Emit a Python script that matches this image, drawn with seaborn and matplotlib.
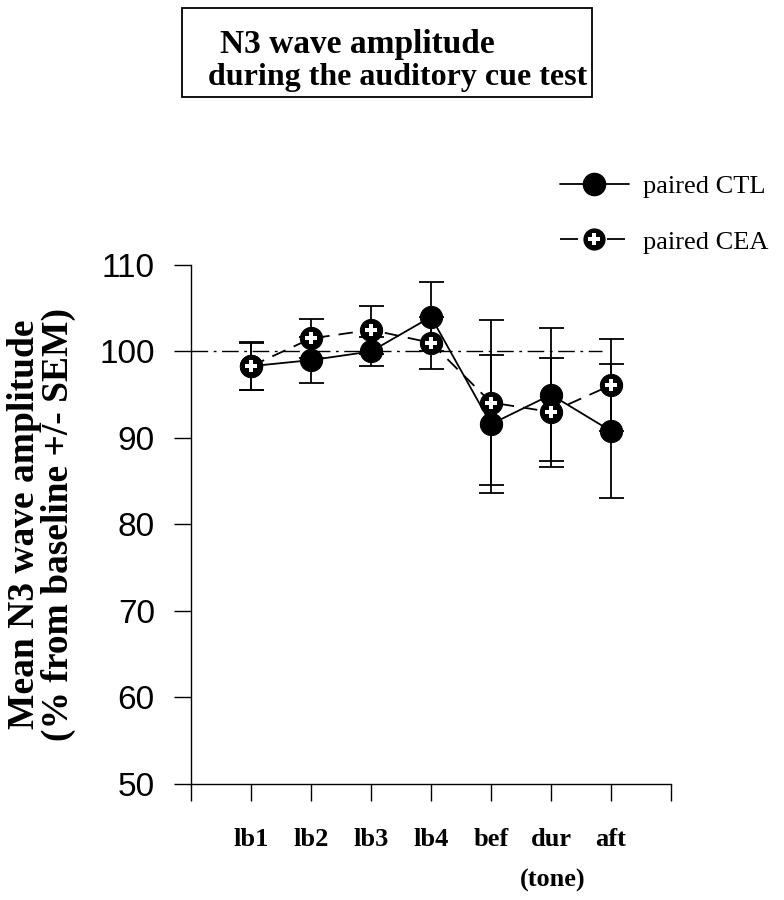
import matplotlib
matplotlib.use("Agg")
import matplotlib.pyplot as plt
import pandas as pd
import seaborn as sns
from matplotlib.lines import Line2D
from matplotlib.legend_handler import HandlerTuple
from matplotlib.patches import Rectangle

sns.set_theme(style="ticks", rc={
    "text.color": "black",
    "axes.labelcolor": "black",
    "axes.edgecolor": "black",
    "xtick.color": "black",
    "ytick.color": "black",
})
plt.rcParams["font.family"] = ["Liberation Serif", "DejaVu Serif"]

labels = ["lb1", "lb2", "lb3", "lb4", "bef", "dur", "aft"]
positions = [1, 2, 3, 4, 5, 6, 7]
ctl_mean = [98.3, 99.0, 100.0, 104.0, 91.6, 95.0, 90.8]
ctl_sem = [2.8, 2.7, 1.7, 4.0, 8.0, 7.7, 7.7]
cea_mean = [98.3, 101.5, 102.5, 101.0, 94.1, 93.0, 96.1]
cea_sem = [2.7, 2.3, 2.8, 3.0, 9.5, 6.3, 5.3]

frame = pd.DataFrame({
    "pos": positions * 2,
    "value": ctl_mean + cea_mean,
    "group": ["paired CTL"] * 7 + ["paired CEA"] * 7,
})

fig = plt.figure(figsize=(7.84, 9), dpi=100)
ax = fig.add_axes([0.2436, 0.1289, 0.6123, 0.5767])

# baseline reference
ax.plot([0, 6.85], [100, 100], color="black", linewidth=1.0,
        linestyle=(0, (12, 4, 2, 4)), zorder=1)

for mean, sem in [(ctl_mean, ctl_sem), (cea_mean, cea_sem)]:
    ax.errorbar(positions, mean, yerr=sem, fmt="none", ecolor="black",
                elinewidth=1.3, capsize=9, capthick=1.3, zorder=2)

sns.lineplot(data=frame, x="pos", y="value", hue="group", style="group",
             hue_order=["paired CTL", "paired CEA"],
             palette={"paired CTL": "black", "paired CEA": "black"},
             dashes={"paired CTL": "", "paired CEA": (8, 5)},
             markers={"paired CTL": "o", "paired CEA": "o"},
             markersize=16, markeredgecolor="black", linewidth=1.3,
             legend=False, ax=ax, zorder=3)
ax.plot(positions, cea_mean, linestyle="none", marker="P", markersize=8,
        color="white", markeredgewidth=0, zorder=4)

ax.set_xlim(0, 8)
ax.set_ylim(50, 110)
ax.set_xticks(range(0, 9))
ax.set_xticklabels([""] + labels + [""], fontweight="bold", fontsize=19)
ax.set_yticks(range(50, 111, 10))
ax.set_yticklabels([str(v) for v in range(50, 111, 10)],
                   family=["Liberation Sans", "DejaVu Sans"], fontsize=24)
ax.tick_params(axis="both", direction="out", length=12, width=1.0)
ax.tick_params(axis="x", pad=20)
ax.tick_params(axis="y", pad=14)
ax.set_xlabel("")
ax.set_ylabel("Mean N3 wave amplitude\n(% from baseline +/- SEM)",
              fontweight="bold", fontsize=27, linespacing=0.95, labelpad=17)
sns.despine(ax=ax)
for side in ["left", "bottom"]:
    ax.spines[side].set_linewidth(1.0)

fig.text(553 / 784, 1 - 880 / 900, "(tone)", ha="center",
         va="center", fontweight="bold", fontsize=19)

# title box
fig.patches.append(Rectangle((182 / 784, 1 - 97 / 900), 410 / 784, 89 / 900,
                             transform=fig.transFigure, fill=False,
                             edgecolor="black", linewidth=1.3))
fig.text(220 / 784, 1 - 45 / 900, "N3 wave amplitude", ha="left",
         va="center", fontweight="bold", fontsize=24)
fig.text(208 / 784, 1 - 78 / 900, "during the auditory cue test", ha="left",
         va="center", fontweight="bold", fontsize=23)

# legend
h_ctl = Line2D([], [], color="black", linewidth=1.3, marker="o",
               markersize=16)
h_cea = Line2D([], [], color="black", linewidth=1.3, linestyle=(0, (10, 16)),
               marker="o", markersize=15)
h_plus = Line2D([], [], linestyle="none", marker="P", markersize=8,
                color="white", markeredgewidth=0)
leg = fig.legend([h_ctl, (h_cea, h_plus)], ["paired CTL", "paired CEA"],
                 handler_map={tuple: HandlerTuple(ndivide=1, pad=0)},
                 loc="upper left", bbox_to_anchor=(560 / 784, 1 - 175 / 900),
                 frameon=False, fontsize=19, handlelength=2.6,
                 labelspacing=1.2, handletextpad=0.55, borderaxespad=0,
                 borderpad=0)

fig.savefig("out.png", dpi=100)
